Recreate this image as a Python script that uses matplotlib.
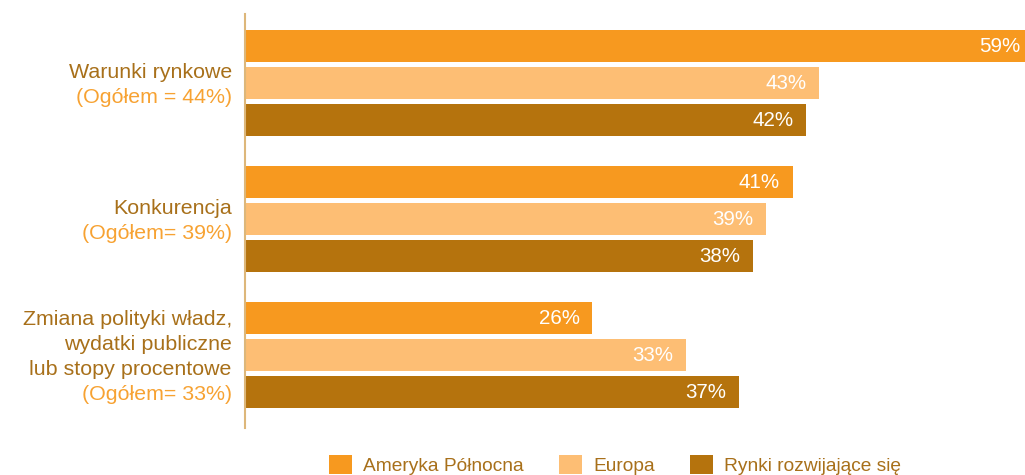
import matplotlib.pyplot as plt
from matplotlib.patches import Patch

plt.rcParams['font.family'] = ['Liberation Sans', 'DejaVu Sans']

# categories (top to bottom) and the overall share shown under each name
categories = ["Warunki rynkowe", "Konkurencja",
              "Zmiana polityki władz,\nwydatki publiczne\nlub stopy procentowe"]
overall = ["(Ogółem = 44%)", "(Ogółem= 39%)", "(Ogółem= 33%)"]

series = ["Ameryka Północna", "Europa", "Rynki rozwijające się"]
north_america = [59, 41, 26]
europe = [43, 39, 33]
emerging = [42, 38, 37]

colors = ["#F7991F", "#FDBE74", "#B5730D"]
label_col = "#A8701A"
overall_col = "#F7A232"

fig = plt.figure(figsize=(10.25, 4.75), dpi=100)
ax = fig.add_axes([245 / 1025, 47 / 475, 780 / 1025, 414 / 475])

# vertical layout in pixel-like units, top at 14, bottom at 428
bar_h = 32
bar_step = 37
group_step = 136
first_center = 46

values = [north_america, europe, emerging]
for s, vals in enumerate(values):
    for g, v in enumerate(vals):
        yc = first_center + g * group_step + s * bar_step
        ax.barh(yc, v, height=bar_h, color=colors[s], linewidth=0)
        ax.annotate(f"{v}%", xy=(v, yc), xytext=(-9, 0),
                    textcoords="offset points", ha="right", va="center",
                    color="white", fontsize=14.8, annotation_clip=False)

# category labels to the left of the axis
line_gap = 25
for g, (name, tot) in enumerate(zip(categories, overall)):
    center = first_center + g * group_step + bar_step + 2
    lines = name.split("\n") + [tot]
    n = len(lines)
    for i, txt in enumerate(lines):
        y = center + (i - (n - 1) / 2) * line_gap
        col = overall_col if i == n - 1 else label_col
        ax.annotate(txt, xy=(0, y), xycoords=("axes fraction", "data"),
                    xytext=(-9.5, 0), textcoords="offset points",
                    ha="right", va="center", color=col, fontsize=15.4)

ax.set_xlim(0, 58.4)
ax.set_ylim(428, 14)
for side in ["top", "right", "bottom"]:
    ax.spines[side].set_visible(False)
ax.spines["left"].set_color("#DDB77A")
ax.spines["left"].set_linewidth(1.5)
ax.set_xticks([])
ax.set_yticks([])
ax.patch.set_alpha(0)

handles = [Patch(facecolor=c, edgecolor="none") for c in colors]
fig.legend(handles, series, loc="lower left",
           bbox_to_anchor=(329 / 1025, 0), ncol=3, frameon=False,
           fontsize=13.8, handlelength=1.2, handleheight=1.2,
           handletextpad=0.57, columnspacing=1.85, borderpad=0,
           borderaxespad=0, labelcolor=label_col)

fig.savefig("out.png", dpi=100)
